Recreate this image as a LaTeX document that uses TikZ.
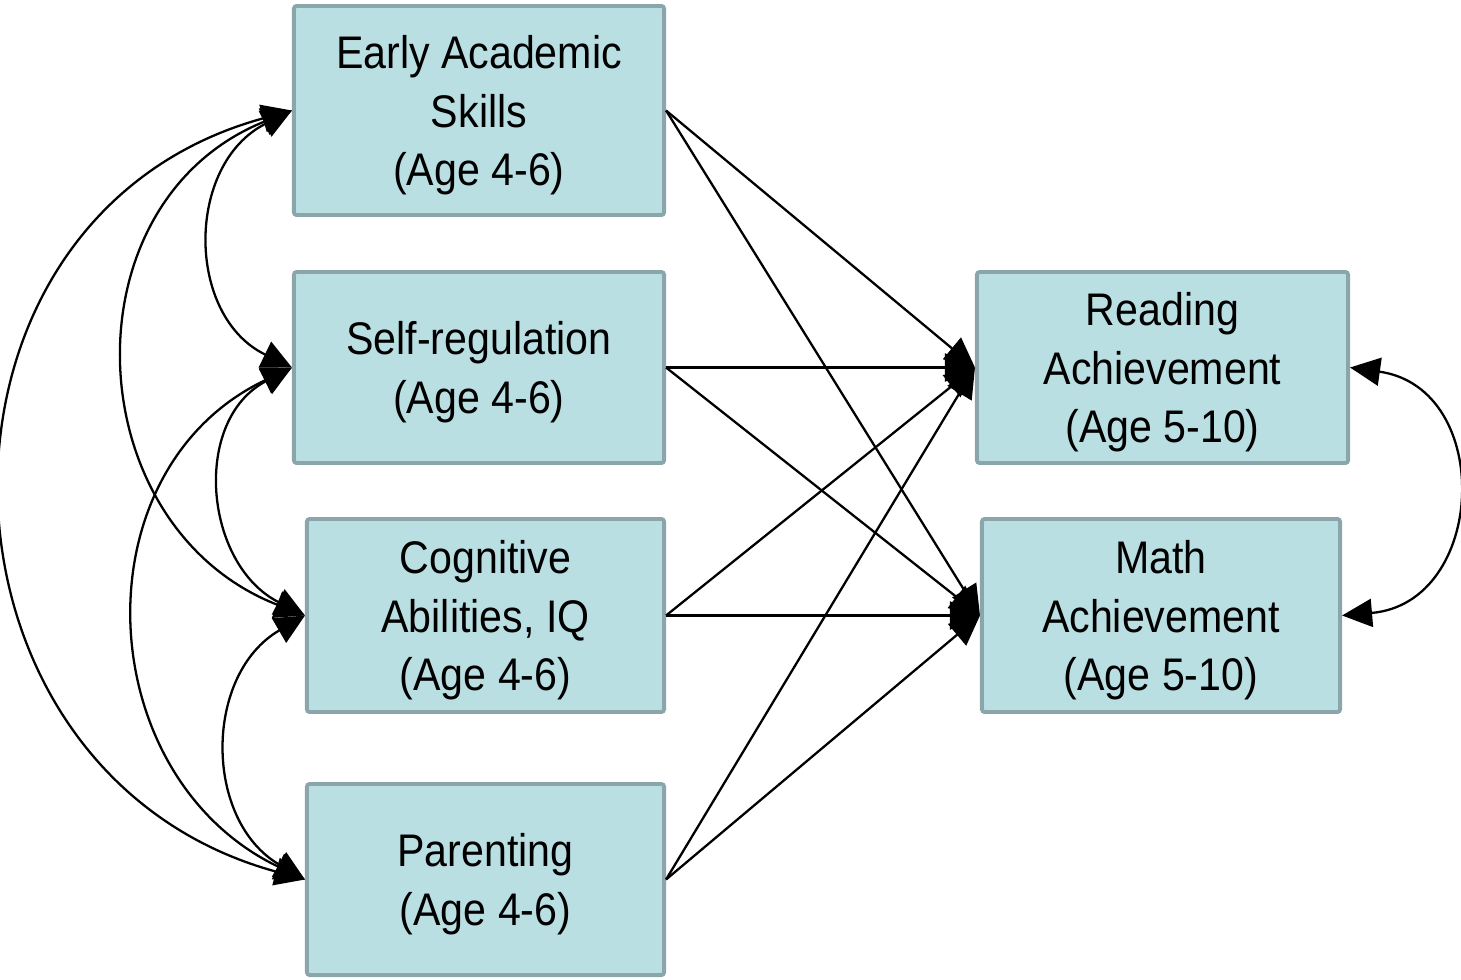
\documentclass[tikz,border=0pt]{standalone}
\usepackage{fontspec}
\setmainfont{Liberation Sans}[FakeStretch=0.9]
\usetikzlibrary{arrows.meta}
\definecolor{boxfill}{RGB}{185,223,227}
\definecolor{boxline}{RGB}{138,166,170}

\begin{document}
\begin{tikzpicture}[x=0.01cm, y=-0.01cm,
	var/.style={draw=boxline, fill=boxfill, line width=1.1pt, rounded corners=0.8pt, align=center, inner sep=0pt,
		font=\fontsize{13}{16.6}\selectfont, text depth=-1pt},
	path/.style={line width=0.65pt, -{Triangle[length=0.3cm, width=0.28cm]}},
	cov/.style={line width=0.65pt, {Triangle[length=0.3cm, width=0.28cm]}-{Triangle[length=0.3cm, width=0.28cm]}}]
	\useasboundingbox (0,0) rectangle (1461,979);

	\node[var, minimum width=3.70cm, minimum height=2.09cm] (eas) at (479,110.5) {Early Academic\\Skills\\(Age 4-6)};
	\node[var, minimum width=3.70cm, minimum height=1.91cm] (sr) at (479,367.5) {Self-regulation\\(Age 4-6)};
	\node[var, minimum width=3.57cm, minimum height=1.93cm] (ca) at (485.5,615.5) {Cognitive\\Abilities, IQ\\(Age 4-6)};
	\node[var, minimum width=3.57cm, minimum height=1.91cm] (par) at (485.5,879.5) {Parenting\\(Age 4-6)};
	\node[var, minimum width=3.71cm, minimum height=1.91cm] (read) at (1162.5,367.5) {Reading\\Achievement\\(Age 5-10)};
	\node[var, minimum width=3.58cm, minimum height=1.93cm] (math) at (1161,615.5) {Math\\Achievement\\(Age 5-10)};

	% paths to outcomes
	\foreach \src in {eas,sr,ca,par}{
		\draw[path] (\src.east) -- (read.west);
		\draw[path] (\src.east) -- (math.west);
	}

	% correlations among predictors
	\draw[cov] (eas.west) .. controls (185.4,164) and (185.4,316) .. (sr.west);
	\draw[cov] (sr.west) .. controls (191.2,420.5) and (204.2,564.5) .. (ca.west);
	\draw[cov] (ca.west) .. controls (203.5,674.4) and (203.5,820.6) .. (par.west);
	\draw[cov] (eas.west) .. controls (63.2,202.6) and (76.2,526.4) .. (ca.west);
	\draw[cov] (sr.west) .. controls (76.7,469.8) and (89.7,776.2) .. (par.west);
	\draw[cov] (eas.west) .. controls (-99.8,217.4) and (-86.8,772.6) .. (par.west);

	% correlation among outcomes
	\draw[cov] (read.east) .. controls (1495,388) and (1487,603) .. (math.east);
\end{tikzpicture}
\end{document}
